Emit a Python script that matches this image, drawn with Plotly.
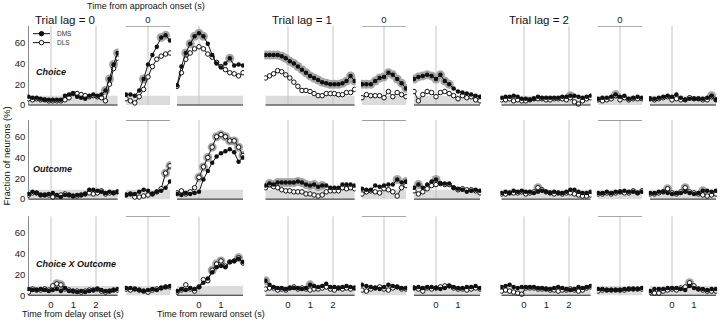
import plotly.graph_objects as go

# ---------------- time bins (s) ----------------
delay_t = [-1.0, -0.82, -0.64, -0.46, -0.28, -0.1, 0.08, 0.26, 0.44, 0.62, 0.8, 0.98,
           1.16, 1.34, 1.52, 1.7, 1.88, 2.06, 2.24, 2.42, 2.6, 2.78, 2.96]
appr_t = [-1.0, -0.8, -0.6, -0.4, -0.2, 0.0, 0.2, 0.4, 0.6, 0.8, 1.0]
rew_t = [-1.0, -0.8, -0.6, -0.4, -0.2, 0.0, 0.2, 0.4, 0.6, 0.8, 1.0, 1.2, 1.4, 1.6, 1.8, 2.0]

# ---------------- Choice ----------------
ch0_dly_dms = [8, 7, 7, 6, 5, 5, 5, 5, 5, 9, 10, 11, 8, 7, 6, 9, 10, 9, 10, 14, 25, 39, 50]
ch0_dly_dls = [6, 5, 6, 5, 5, 4, 4, 4, 4, 5, 7, 11, 11, 10, 9, 8, 9, 8, 7, 4, 20, 35, 45]
ch0_apr_dms = [10, 10, 9, 14, 25, 39, 48, 56, 65, 67, 62]
ch0_apr_dls = [6, 4, 2, 8, 15, 27, 37, 44, 47, 49, 50]
ch0_rew_dms = [19, 37, 50, 59, 66, 69, 66, 59, 48, 40, 36, 40, 45, 38, 39, 38]
ch0_rew_dls = [18, 31, 44, 50, 54, 56, 54, 49, 46, 41, 37, 34, 31, 30, 28, 31]

ch1_dly_dms = [48, 48, 48, 48, 47, 45, 42, 40, 37, 34, 31, 28, 26, 24, 22, 21, 20, 20, 20, 21, 23, 28, 23]
ch1_dly_dls = [26, 28, 30, 33, 32, 29, 26, 22, 18, 14, 14, 13, 11, 9, 9, 11, 11, 11, 10, 10, 12, 12, 15]
ch1_apr_dms = [20, 20, 20, 23, 26, 27, 31, 29, 25, 21, 16]
ch1_apr_dls = [7, 10, 9, 9, 9, 7, 13, 8, 12, 10, 8]
ch1_rew_dms = [25, 27, 28, 29, 28, 25, 29, 23, 20, 16, 13, 12, 11, 10, 9, 8]
ch1_rew_dls = [13, 4, 10, 13, 12, 8, 12, 13, 11, 9, 6, 9, 7, 8, 5, 4]

ch2_dly_dms = [7, 8, 8, 9, 8, 6, 6, 5, 6, 8, 7, 7, 7, 7, 7, 8, 8, 9, 9, 8, 7, 8, 9]
ch2_dly_dls = [5, 5, 6, 4, 5, 4, 4, 5, 6, 6, 6, 5, 5, 6, 6, 6, 5, 7, 3, 1, 4, 6, 7]
ch2_apr_dms = [6, 7, 7, 8, 10, 8, 9, 6, 7, 8, 7]
ch2_apr_dls = [5, 4, 5, 6, 9, 5, 7, 5, 6, 6, 6]
ch2_rew_dms = [6, 6, 7, 8, 9, 8, 10, 7, 5, 6, 6, 6, 6, 7, 9, 5]
ch2_rew_dls = [6, 5, 6, 7, 8, 5, 6, 5, 5, 7, 6, 6, 5, 5, 8, 5]

# ---------------- Outcome ----------------
oc0_dly_dms = [5, 7, 6, 4, 4, 5, 6, 4, 2, 4, 4, 3, 4, 4, 5, 9, 9, 8, 7, 6, 7, 6, 7]
oc0_dly_dls = [4, 6, 6, 4, 4, 4, 2, 3, 4, 5, 4, 3, 3, 4, 5, 6, 5, 6, 8, 5, 6, 6, 7]
oc0_apr_dms = [4, 5, 5, 7, 9, 8, 5, 7, 8, 11, 17]
oc0_apr_dls = [4, 5, 2, 2, 3, 4, 5, 7, 10, 25, 32]
oc0_rew_dms = [5, 4, 6, 5, 6, 7, 19, 27, 35, 41, 44, 46, 48, 45, 36, 40]
oc0_rew_dls = [6, 8, 5, 7, 11, 21, 31, 40, 50, 60, 62, 60, 56, 56, 50, 42]

oc1_dly_dms = [13, 15, 14, 16, 16, 16, 16, 16, 17, 16, 14, 13, 14, 12, 13, 13, 11, 11, 11, 14, 14, 14, 13]
oc1_dly_dls = [11, 14, 12, 11, 9, 8, 8, 7, 7, 7, 5, 5, 4, 3, 4, 7, 8, 8, 8, 11, 10, 11, 10]
oc1_apr_dms = [10, 9, 9, 13, 12, 13, 14, 14, 19, 16, 17]
oc1_apr_dls = [5, 7, 8, 7, 6, 10, 9, 7, 3, 11, 13]
oc1_rew_dms = [11, 14, 11, 14, 17, 19, 15, 15, 15, 11, 10, 9, 7, 8, 9, 8]
oc1_rew_dls = [8, 5, 7, 10, 13, 14, 15, 14, 14, 11, 9, 10, 9, 9, 8, 6]

oc2_dly_dms = [6, 7, 6, 8, 7, 8, 7, 7, 6, 7, 8, 7, 6, 7, 6, 6, 7, 9, 9, 7, 6, 6, 7]
oc2_dly_dls = [5, 5, 6, 6, 6, 7, 5, 6, 7, 11, 9, 7, 6, 5, 6, 5, 6, 6, 5, 4, 3, 3, 4]
oc2_apr_dms = [6, 6, 7, 6, 7, 7, 8, 7, 7, 6, 7]
oc2_apr_dls = [5, 5, 6, 5, 6, 7, 6, 6, 8, 6, 8]
oc2_rew_dms = [6, 6, 7, 7, 6, 5, 6, 6, 7, 6, 5, 6, 8, 8, 7, 8]
oc2_rew_dls = [5, 5, 6, 7, 10, 6, 5, 7, 11, 7, 6, 5, 4, 3, 4, 5]

# ---------------- Choice X Outcome ----------------
cx0_dly_dms = [6, 5, 5, 6, 5, 4, 5, 6, 4, 7, 4, 4, 3, 4, 3, 4, 5, 6, 5, 4, 4, 5, 6]
cx0_dly_dls = [3, 6, 5, 5, 6, 5, 9, 11, 10, 6, 5, 4, 4, 3, 4, 5, 5, 6, 4, 3, 4, 5, 5]
cx0_apr_dms = [7, 7, 6, 5, 4, 5, 6, 5, 7, 8, 9]
cx0_apr_dls = [6, 5, 6, 5, 4, 3, 5, 6, 7, 8, 8]
cx0_rew_dms = [4, 6, 5, 7, 6, 8, 12, 16, 22, 27, 28, 27, 32, 33, 35, 32]
cx0_rew_dls = [3, 5, 10, 6, 4, 8, 15, 14, 24, 30, 33, 28, 32, 33, 36, 31]

cx1_dly_dms = [14, 10, 8, 7, 7, 6, 7, 7, 7, 6, 7, 10, 9, 8, 9, 11, 8, 8, 7, 8, 9, 8, 7]
cx1_dly_dls = [6, 7, 7, 5, 6, 5, 7, 8, 6, 7, 6, 5, 6, 6, 7, 8, 6, 5, 7, 6, 7, 6, 7]
cx1_apr_dms = [10, 9, 8, 7, 6, 8, 10, 9, 8, 7, 7]
cx1_apr_dls = [5, 4, 6, 7, 8, 6, 5, 7, 8, 6, 6]
cx1_rew_dms = [7, 8, 7, 8, 8, 7, 6, 7, 9, 8, 7, 7, 8, 8, 9, 7]
cx1_rew_dls = [7, 6, 4, 7, 6, 7, 8, 9, 9, 7, 6, 6, 5, 6, 7, 6]

cx2_dly_dms = [8, 9, 10, 8, 7, 8, 8, 8, 8, 7, 7, 6, 6, 7, 8, 7, 6, 5, 6, 8, 7, 8, 9]
cx2_dly_dls = [4, 5, 4, 3, 2, 1, 7, 7, 7, 6, 6, 6, 5, 5, 4, 5, 5, 6, 5, 4, 5, 7, 8]
cx2_apr_dms = [6, 6, 5, 5, 5, 5, 6, 6, 6, 6, 7]
cx2_apr_dls = [4, 5, 5, 5, 5, 5, 5, 6, 6, 6, 6]
cx2_rew_dms = [4, 6, 6, 6, 7, 7, 7, 6, 5, 9, 7, 6, 6, 5, 6, 6]
cx2_rew_dls = [3, 2, 2, 4, 5, 6, 5, 7, 8, 12, 9, 6, 5, 4, 4, 4]

# significant bins (gray halo), by index
halo_idx = {
    "ch0_dly_dms": [19, 20, 21, 22],
    "ch0_apr_dms": [4, 8, 9],
    "ch0_rew_dms": [2, 3, 4, 5, 6, 12],
    "ch1_dly_dms": list(range(23)),
    "ch1_apr_dms": list(range(11)),
    "ch1_rew_dms": list(range(9)),
    "ch2_dly_dms": [17],
    "ch2_apr_dms": [4],
    "ch2_rew_dms": [14],
    "oc0_apr_dls": [9, 10],
    "oc0_rew_dls": list(range(5, 16)),
    "oc1_dly_dms": list(range(1, 15)),
    "oc1_apr_dms": [8, 10],
    "oc1_rew_dms": [1, 5],
    "oc2_dly_dls": [9],
    "oc2_rew_dls": [4, 8],
    "oc2_rew_dms": [12],
    "cx0_dly_dls": [7, 8],
    "cx0_rew_dls": [8, 9, 10, 14],
    "cx1_dly_dms": [0, 11],
    "cx2_rew_dls": [9],
}

row_keys = ["ch", "oc", "cx"]
row_names = ["Choice", "Outcome", "Choice X Outcome"]
panel_keys = ["dly", "apr", "rew"]
panel_t = {"dly": delay_t, "apr": appr_t, "rew": rew_t}

# ---------------- layout geometry (pixels) ----------------
W, H = 720, 324
FONT = "Liberation Sans, Arial, Helvetica, sans-serif"
Y_RANGE = [-2, 76]
PX_PER_UNIT = 1.05
row_zero_px = [106, 201, 298]
lag_zero_px = [(51, 148, 199), (288, 384, 436), (524, 620, 672)]
x_ranges = {"dly": [-1.05, 3.0], "apr": [-1.05, 1.05], "rew": [-1.05, 2.05]}
px_per_s = {"dly": 22.5, "apr": 22.0, "rew": 22.0}
vlines = {"dly": [0, 2], "apr": [0], "rew": [0]}

fig = go.Figure()
layout = {}
shapes = []
annotations = []

def pxx(p):
    return p / W

def pxy(p):
    return 1 - p / H

k = 0
for r, rk in enumerate(row_keys):
    z0 = row_zero_px[r]
    ydom = [pxy(z0 + abs(Y_RANGE[0]) * PX_PER_UNIT), pxy(z0 - Y_RANGE[1] * PX_PER_UNIT)]
    for lag in range(3):
        for p, pk in enumerate(panel_keys):
            k += 1
            xn = "x" if k == 1 else f"x{k}"
            yn = "y" if k == 1 else f"y{k}"
            xa = "xaxis" if k == 1 else f"xaxis{k}"
            ya = "yaxis" if k == 1 else f"yaxis{k}"
            zx = lag_zero_px[lag][p]
            xr = x_ranges[pk]
            s = px_per_s[pk]
            xdom = [pxx(zx + xr[0] * s), pxx(zx + xr[1] * s)]
            xax = dict(domain=xdom, range=xr, anchor=yn, showgrid=False, zeroline=False,
                       showline=False, ticks="", showticklabels=False, fixedrange=True,
                       tickfont=dict(family=FONT, size=9.5, color="#222"))
            yax = dict(domain=ydom, range=Y_RANGE, anchor=xn, showgrid=False, zeroline=False,
                       showline=False, ticks="", showticklabels=False, fixedrange=True,
                       tickfont=dict(family=FONT, size=9.5, color="#222"))
            if lag == 0 and pk == "dly":
                yax.update(showticklabels=True, tickvals=[0, 20, 40, 60],
                           ticktext=["0", "20", "40", "60"], ticklabelstandoff=1)
            if r == 2 and pk == "dly":
                xax.update(showticklabels=True, tickvals=[0, 1, 2], ticktext=["0", "1", "2"])
            if r == 2 and pk == "rew":
                xax.update(showticklabels=True, tickvals=[0, 1], ticktext=["0", "1"])
            if r == 0 and pk == "apr":
                xax.update(showticklabels=True, side="top", tickvals=[0], ticktext=["0"])
            layout[xa] = xax
            layout[ya] = yax

            t = panel_t[pk]
            # baseline band
            shapes.append(dict(type="rect", xref=xn, yref=yn, x0=t[0], x1=t[-1], y0=0, y1=9,
                               fillcolor="#dcdcdc", line=dict(width=0), layer="below"))
            for v in vlines[pk]:
                shapes.append(dict(type="line", xref=xn, yref=yn, x0=v, x1=v, y0=0, y1=Y_RANGE[1],
                                   line=dict(color="#c4c4c4", width=1), layer="below"))
            if pk == "apr":
                shapes.append(dict(type="line", xref=xn, yref=yn, x0=t[0], x1=t[-1],
                                   y0=Y_RANGE[1], y1=Y_RANGE[1],
                                   line=dict(color="#555", width=1)))
            else:
                shapes.append(dict(type="line", xref=xn, yref=yn, x0=t[0], x1=t[-1], y0=0, y1=0,
                                   line=dict(color="#222", width=1)))
            if lag == 0 and pk == "dly":
                shapes.append(dict(type="line", xref=xn, yref=yn, x0=t[0], x1=t[0], y0=0,
                                   y1=Y_RANGE[1], line=dict(color="#888", width=1), layer="below"))

            names = [f"{rk}{lag}_{pk}_dls", f"{rk}{lag}_{pk}_dms"]
            # halos
            for nm in names:
                vals = globals()[nm]
                idx = halo_idx.get(nm, [])
                if idx:
                    fig.add_trace(go.Scatter(
                        x=[t[i] for i in idx], y=[vals[i] for i in idx], mode="markers",
                        marker=dict(size=9, color="#a6a6a6"), xaxis=xn, yaxis=yn,
                        showlegend=False, hoverinfo="skip"))
            # DLS (open) then DMS (filled)
            fig.add_trace(go.Scatter(
                x=t, y=globals()[names[0]], mode="lines+markers", xaxis=xn, yaxis=yn,
                line=dict(color="#111", width=1),
                marker=dict(size=4.5, color="white", line=dict(color="#111", width=1)),
                showlegend=False, name="DLS"))
            fig.add_trace(go.Scatter(
                x=t, y=globals()[names[1]], mode="lines+markers", xaxis=xn, yaxis=yn,
                line=dict(color="#111", width=1),
                marker=dict(size=4.5, color="#111"),
                showlegend=False, name="DMS"))

# ---------------- legend (drawn in first panel) ----------------
def t_of_px(px):
    return x_ranges["dly"][0] + (px - (lag_zero_px[0][0] + x_ranges["dly"][0] * 22.5)) / 22.5

def v_of_py(py):
    return (row_zero_px[0] - py) / PX_PER_UNIT

leg_items = [("DMS", 34, "#111"), ("DLS", 43, "white")]
for label, py, fillc in leg_items:
    fig.add_trace(go.Scatter(x=[t_of_px(33), t_of_px(50)], y=[v_of_py(py)] * 2, mode="lines",
                             line=dict(color="#111", width=1), xaxis="x", yaxis="y",
                             showlegend=False, hoverinfo="skip"))
    fig.add_trace(go.Scatter(x=[t_of_px(41.5)], y=[v_of_py(py)], mode="markers",
                             marker=dict(size=4.5, color=fillc, line=dict(color="#111", width=1)),
                             xaxis="x", yaxis="y", showlegend=False, hoverinfo="skip"))
    annotations.append(dict(x=pxx(55), y=pxy(py), xref="paper", yref="paper", text=label,
                            showarrow=False, xanchor="left", yanchor="middle",
                            font=dict(family=FONT, size=6.5, color="#333")))

# ---------------- text ----------------
def ann(text, x, y, size, xanchor="center", angle=0):
    annotations.append(dict(x=pxx(x), y=pxy(y), xref="paper", yref="paper", text=text,
                            showarrow=False, xanchor=xanchor, yanchor="middle", textangle=angle,
                            font=dict(family=FONT, size=size, color="#111")))

ann("Time from approach onset (s)", 146, 6, 9)
for lag, xl in zip(range(3), [33, 270, 507]):
    ann(f"Trial lag = {lag}", xl, 20, 11.5, "left")
for nm, xl, yl in zip(row_names, [34, 31, 34], [73, 171, 266]):
    ann(f"<b><i>{nm}</i></b>", xl, yl, 9, "left")
ann("Fraction of neurons (%)", 7, 158, 9.5, angle=-90)
ann("Time from delay onset (s)", 73, 317, 9)
ann("Time from reward onset (s)", 211, 317, 9)

fig.update_layout(width=W, height=H, margin=dict(l=0, r=0, t=0, b=0),
                  plot_bgcolor="white", paper_bgcolor="white", hovermode=False,
                  shapes=shapes, annotations=annotations, showlegend=False, **layout)

fig.write_html("out.html", config={"displayModeBar": False, "staticPlot": True},
               post_script="document.body.style.margin='0px';document.body.style.padding='0px';")
